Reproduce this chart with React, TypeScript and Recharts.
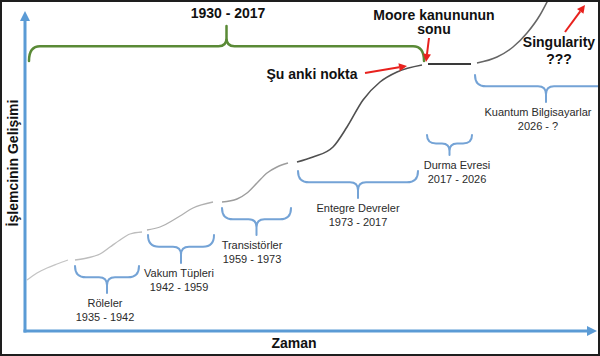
import React from "react";
import {
    ComposedChart,
    Line,
    XAxis,
    YAxis,
    ReferenceArea,
    ReferenceLine,
    ReferenceDot,
} from "recharts";

const FONT = '"Liberation Sans", Arial, Helvetica, sans-serif';

// curve pieces, one per era (x = time, y = height on the page, top-down)
const releSegment = [
    { x: 27, y: 280 }, { x: 37, y: 273 }, { x: 47, y: 268 }, { x: 57, y: 264 }, { x: 68, y: 260 },
];
const vakumSegment = [
    { x: 75, y: 260 }, { x: 87, y: 258 }, { x: 100, y: 254 }, { x: 110, y: 247 },
    { x: 120, y: 240 }, { x: 130, y: 234 }, { x: 142, y: 232 },
];
const transistorSegment = [
    { x: 147, y: 230 }, { x: 160, y: 227 }, { x: 180, y: 216 }, { x: 193, y: 208 }, { x: 213, y: 202 },
];
const entegreEarlySegment = [
    { x: 222, y: 202 }, { x: 237, y: 199 }, { x: 247, y: 193 }, { x: 257, y: 183 },
    { x: 267, y: 173 }, { x: 277, y: 167 }, { x: 288, y: 163 },
];
const entegreSegment = [
    { x: 297, y: 162 }, { x: 313, y: 157 }, { x: 333, y: 147 }, { x: 347, y: 127 },
    { x: 363, y: 100 }, { x: 380, y: 82 }, { x: 397, y: 72 }, { x: 422, y: 65 },
];
const durmaSegment = [{ x: 428, y: 64 }, { x: 471, y: 64 }];
const kuantumSegment = [
    { x: 477, y: 63 }, { x: 497, y: 57 }, { x: 513, y: 47 }, { x: 527, y: 33 }, { x: 540, y: 15 }, { x: 548, y: 0 },
];

const eras = [
    { name: "Röleler", years: "1935 - 1942", from: 75, to: 139, top: 266, tip: 293, labelX: 105 },
    { name: "Vakum Tüpleri", years: "1942 - 1959", from: 148, to: 214, top: 235, tip: 263, labelX: 179 },
    { name: "Transistörler", years: "1959 - 1973", from: 222, to: 291, top: 208, tip: 235, labelX: 252 },
    { name: "Entegre Devreler", years: "1973 - 2017", from: 298, to: 418, top: 171, tip: 198, labelX: 358 },
    { name: "Durma Evresi", years: "2017 - 2026", from: 427, to: 472, top: 135, tip: 155, labelX: 457 },
    { name: "Kuantum Bilgisayarlar", years: "2026 - ?", from: 475, to: 617, top: 75, tip: 102, labelX: 538 },
];

const notes = [
    { lines: ["1930 - 2017"], x: 228, y: 18, gap: 0 },
    { lines: ["Moore kanununun", "sonu"], x: 434, y: 19.5, gap: 14.5 },
    { lines: ["Şu anki nokta"], x: 312, y: 79, gap: 0 },
    { lines: ["Singularity", "???"], x: 559, y: 47, gap: 17 },
];

const arrows = [
    { from: { x: 429, y: 38 }, to: { x: 426, y: 62 } },
    { from: { x: 365, y: 73 }, to: { x: 407, y: 66 } },
    { from: { x: 565, y: 32 }, to: { x: 585, y: 5 } },
];

const bracePath = (x: number, y: number, w: number, h: number, up: boolean) => {
    const endY = up ? y + h : y;
    const tipY = up ? y : y + h;
    const barY = endY + (tipY - endY) * 0.42;
    const mid = x + w / 2;
    const r = Math.min(11, w / 5);
    const c = Math.min(8, w / 6);
    const s = up ? -1 : 1;
    return (
        `M${x},${endY} Q${x},${barY} ${x + r},${barY} L${mid - c},${barY} ` +
        `Q${mid},${barY} ${mid},${barY + s * c} L${mid},${tipY} M${mid},${barY + s * c} ` +
        `Q${mid},${barY} ${mid + c},${barY} L${x + w - r},${barY} Q${x + w},${barY} ${x + w},${endY}`
    );
};

const braceShape = (color: string, width: number, up: boolean) => (p: any) => (
    <path
        d={bracePath(p.x, p.y, p.width, p.height, up)}
        fill="none"
        stroke={color}
        strokeWidth={width}
        strokeLinecap="round"
    />
);

const arrowShape = (color: string, width: number, head: number) => (p: any) => {
    const { x1, y1, x2, y2 } = p;
    const dx = x2 - x1;
    const dy = y2 - y1;
    const len = Math.hypot(dx, dy) || 1;
    const ux = dx / len;
    const uy = dy / len;
    const bx = x2 - ux * head;
    const by = y2 - uy * head;
    const hw = head * 0.5;
    return (
        <g>
            <line x1={x1} y1={y1} x2={bx} y2={by} stroke={color} strokeWidth={width} />
            <polygon
                points={`${x2},${y2} ${bx - uy * hw},${by + ux * hw} ${bx + uy * hw},${by - ux * hw}`}
                fill={color}
            />
        </g>
    );
};

const App: React.FC = () => {
    const segStyle = (stroke: string, w: number) => ({
        type: "monotone" as const,
        dataKey: "y",
        stroke,
        strokeWidth: w,
        dot: false,
        activeDot: false,
        isAnimationActive: false,
    });

    return (
        <div style={{ position: "absolute", left: 0, top: 0, width: 600, height: 356, background: "#fff" }}>
            <ComposedChart width={600} height={356} margin={{ top: 0, right: 0, bottom: 0, left: 0 }}>
                <XAxis type="number" dataKey="x" domain={[0, 600]} hide />
                <YAxis type="number" domain={[0, 356]} reversed hide />

                <Line data={releSegment} {...segStyle("#c4c4c4", 1.3)} />
                <Line data={vakumSegment} {...segStyle("#bdbdbd", 1.3)} />
                <Line data={transistorSegment} {...segStyle("#b0b0b0", 1.3)} />
                <Line data={entegreEarlySegment} {...segStyle("#9d9d9d", 1.4)} />
                <Line data={entegreSegment} {...segStyle("#505050", 1.6)} />
                <Line data={durmaSegment} {...segStyle("#3a3a3a", 1.8)} />
                <Line data={kuantumSegment} {...segStyle("#666666", 1.5)} />

                {eras.map((e) => (
                    <ReferenceArea
                        key={e.name}
                        x1={e.from}
                        x2={e.to}
                        y1={e.top}
                        y2={e.tip}
                        ifOverflow="visible"
                        shape={braceShape("#74a3d6", 2, false)}
                    />
                ))}
                <ReferenceArea x1={29} x2={424} y1={26} y2={61} ifOverflow="visible" shape={braceShape("#5a8a36", 2.5, true)} />

                {eras.map((e) => (
                    <ReferenceDot
                        key={"l" + e.name}
                        x={e.labelX}
                        y={e.tip + 14}
                        r={0}
                        ifOverflow="visible"
                        shape={(p: any) => (
                            <text x={p.cx} y={p.cy} textAnchor="middle" fontFamily={FONT} fontSize={11} fill="#2b2b2b">
                                <tspan x={p.cx}>{e.name}</tspan>
                                <tspan x={p.cx} dy={13.5}>{e.years}</tspan>
                            </text>
                        )}
                    />
                ))}

                {notes.map((n) => (
                    <ReferenceDot
                        key={n.lines[0]}
                        x={n.x}
                        y={n.y}
                        r={0}
                        ifOverflow="visible"
                        shape={(p: any) => (
                            <text x={p.cx} y={p.cy} textAnchor="middle" fontFamily={FONT} fontSize={14} fontWeight="bold" fill="#111">
                                {n.lines.map((l, i) => (
                                    <tspan key={l} x={p.cx} dy={i === 0 ? 0 : n.gap}>{l}</tspan>
                                ))}
                            </text>
                        )}
                    />
                ))}

                {arrows.map((a, i) => (
                    <ReferenceLine
                        key={"a" + i}
                        segment={[a.from, a.to]}
                        ifOverflow="visible"
                        shape={arrowShape("#e8211d", 2, 8)}
                    />
                ))}

                {/* axes drawn as arrows */}
                <ReferenceLine segment={[{ x: 25, y: 332.5 }, { x: 25, y: 11 }]} ifOverflow="visible" shape={arrowShape("#5b9bd5", 3, 10)} />
                <ReferenceLine segment={[{ x: 23.5, y: 331 }, { x: 597, y: 331 }]} ifOverflow="visible" shape={arrowShape("#5b9bd5", 3, 10)} />

                <ReferenceDot
                    x={294}
                    y={348}
                    r={0}
                    ifOverflow="visible"
                    shape={(p: any) => (
                        <text x={p.cx} y={p.cy} textAnchor="middle" fontFamily={FONT} fontSize={14} fontWeight="bold" fill="#111">
                            Zaman
                        </text>
                    )}
                />
                <ReferenceDot
                    x={18}
                    y={163}
                    r={0}
                    ifOverflow="visible"
                    shape={(p: any) => (
                        <text
                            x={p.cx}
                            y={p.cy}
                            transform={`rotate(-90 ${p.cx} ${p.cy})`}
                            textAnchor="middle"
                            fontFamily={FONT}
                            fontSize={14}
                            fontWeight="bold"
                            fill="#111"
                        >
                            İşlemcinin Gelişimi
                        </text>
                    )}
                />
            </ComposedChart>
            <div
                style={{
                    position: "absolute",
                    left: 0,
                    top: 0,
                    width: 600,
                    height: 356,
                    boxSizing: "border-box",
                    border: "2px solid #1e1e1e",
                    pointerEvents: "none",
                }}
            />
        </div>
    );
};

export default App;
